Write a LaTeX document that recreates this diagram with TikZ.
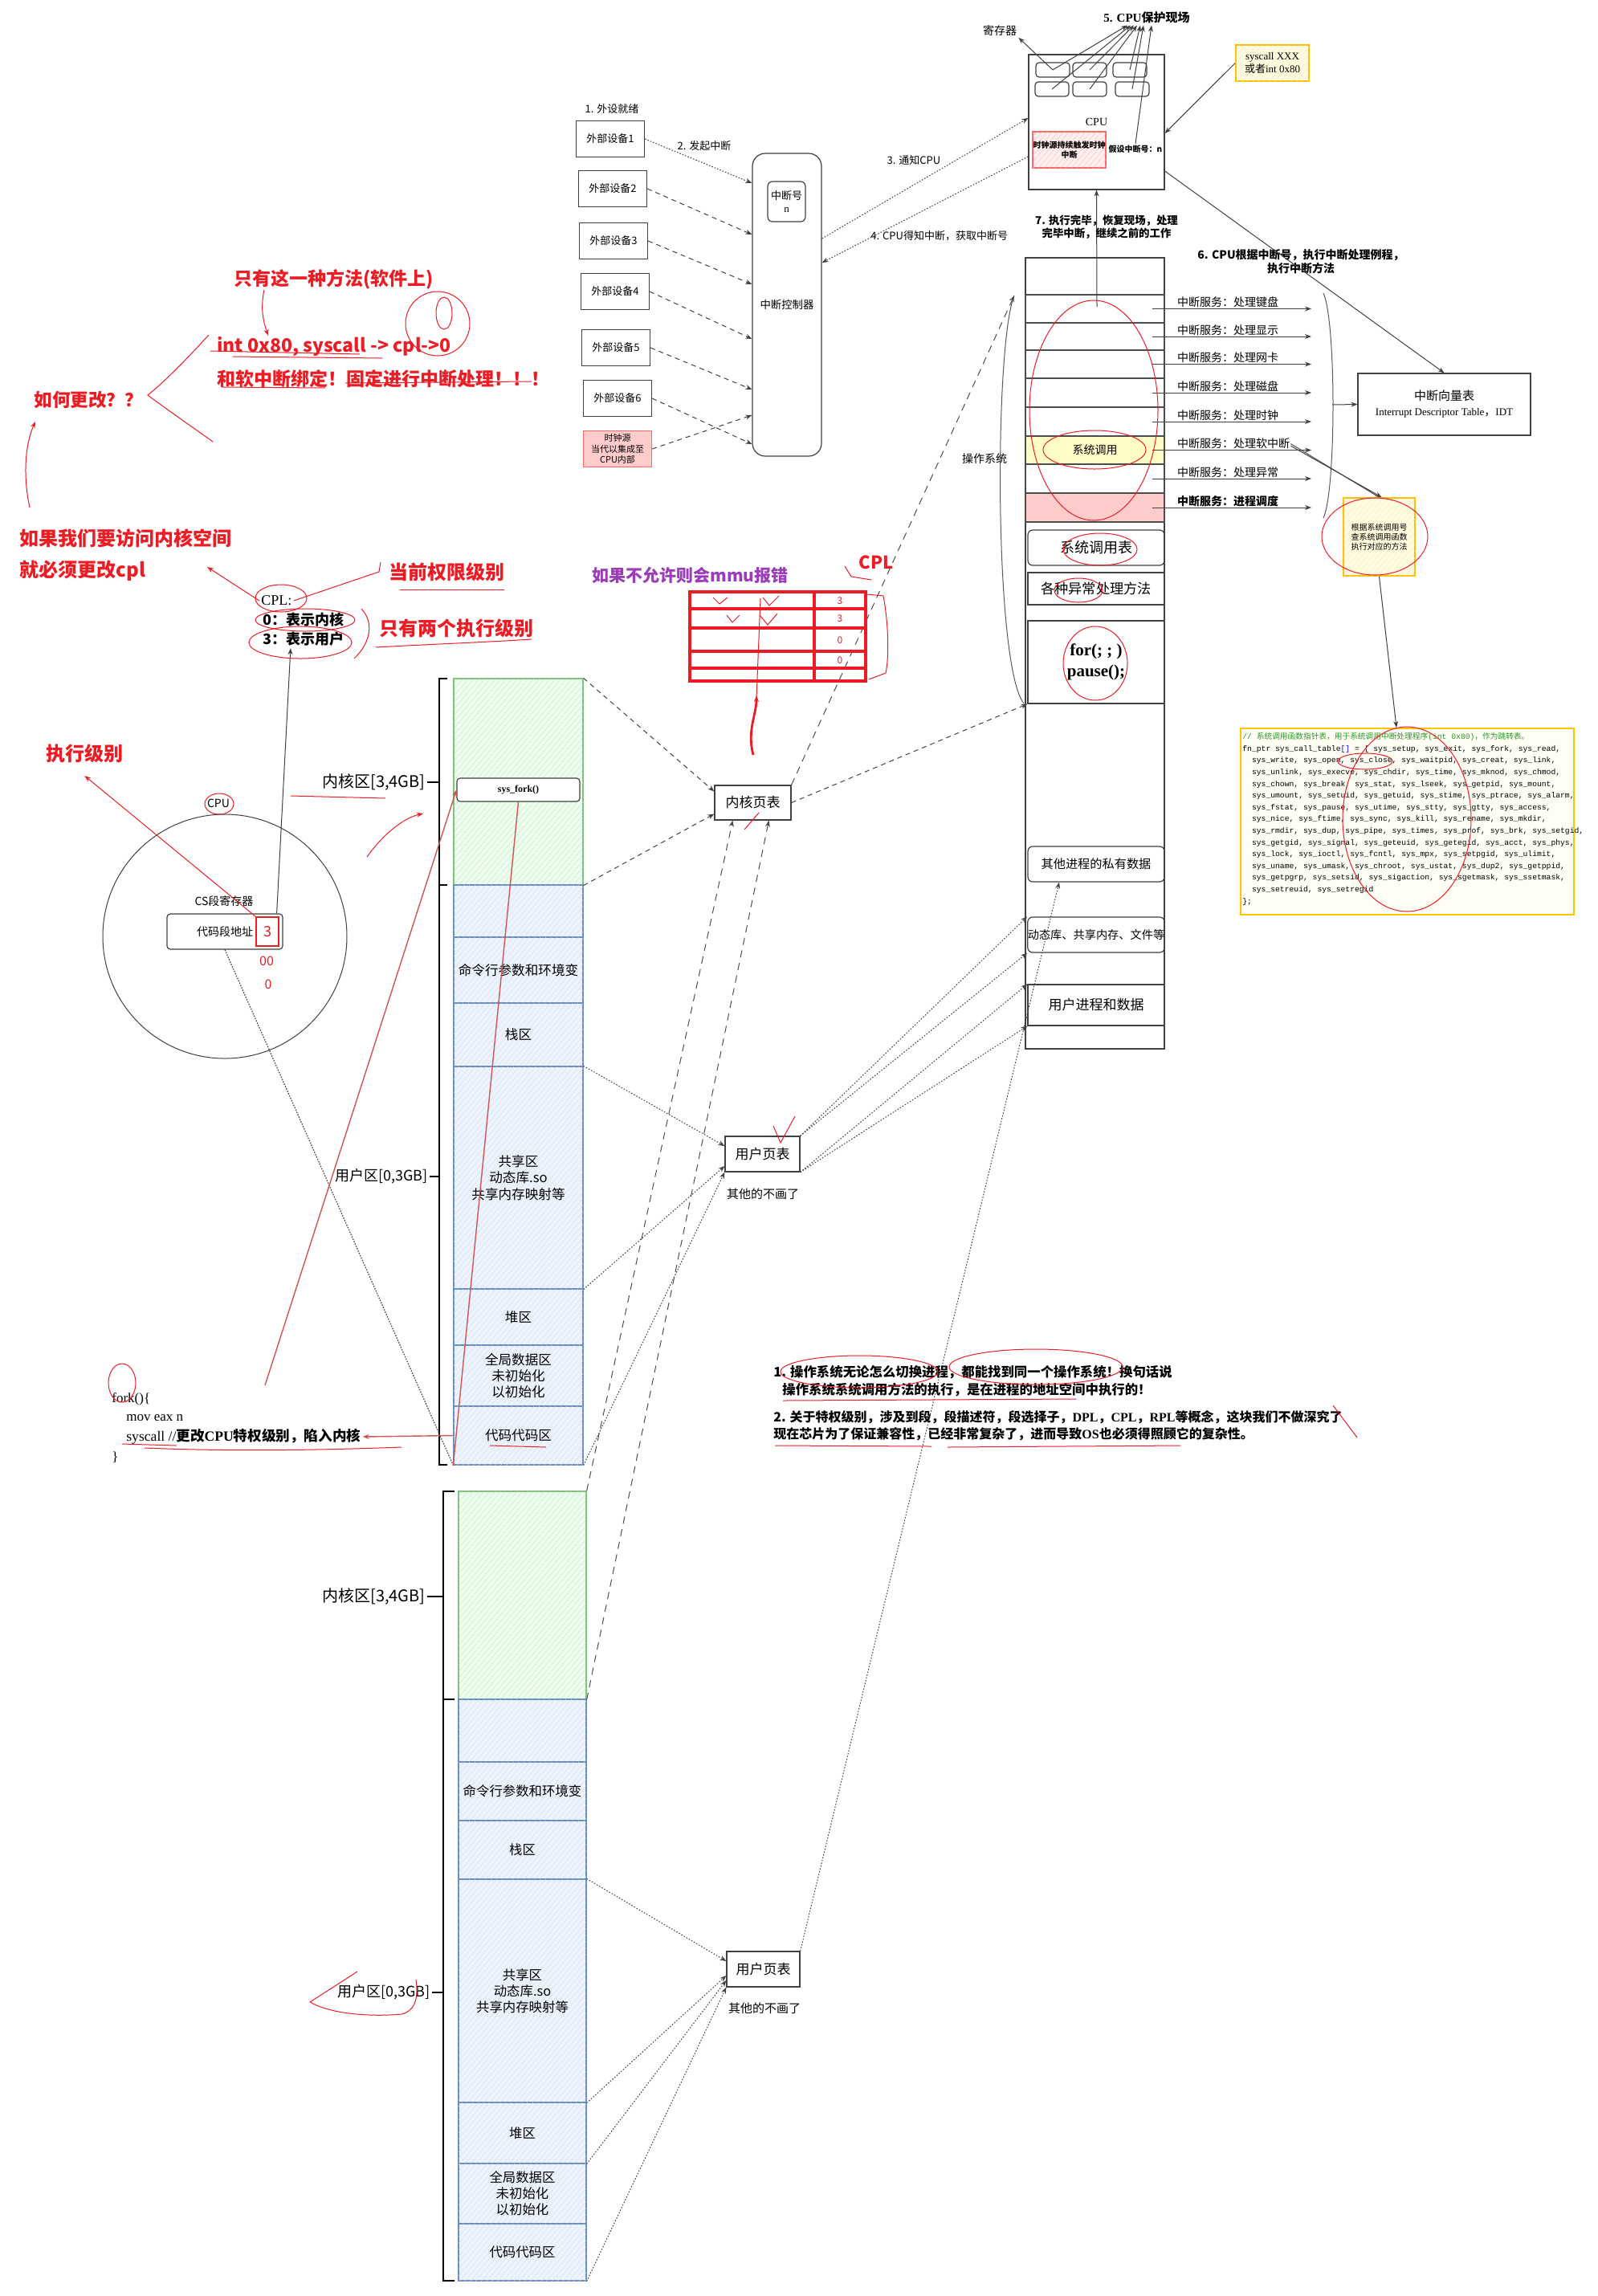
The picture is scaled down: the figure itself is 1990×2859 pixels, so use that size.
\documentclass[tikz,border=0pt]{standalone}
\usepackage{fontspec}
\setmainfont{Noto Sans CJK SC}
\newfontfamily\serif{Liberation Serif}
\newfontfamily\mono{Liberation Mono}
\newfontfamily\cjk{Noto Sans CJK SC}
\usetikzlibrary{arrows.meta,patterns.meta}
\definecolor{annored}{RGB}{236,28,36}
\definecolor{penbrown}{RGB}{205,85,85}
\definecolor{mmupurple}{RGB}{155,60,185}
\definecolor{codegreen}{RGB}{40,150,40}
\definecolor{zoneblue}{RGB}{108,142,191}
\definecolor{zonebluefill}{RGB}{236,243,252}
\newcommand\fsz[1]{\fontsize{#1}{\fpeval{1.22*#1}}\selectfont}
\newcommand\codeind{\hspace*{1.2em}}

\begin{document}
\begin{tikzpicture}[x=0.5pt,y=-0.5pt,
  >={Stealth[length=4pt,width=3pt]},
  every node/.style={inner sep=1pt,font=\fsz{7}},
  box/.style={draw=black!75,line width=0.6pt,align=center,inner sep=0pt},
  rbox/.style={box,rounded corners=3pt},
  hatch/.style={postaction={pattern={Lines[angle=50,distance=2.6pt,line width=0.2pt]},
    pattern color=#1}},
  kzone/.style={box,draw=green!50!black!50,fill=green!7,hatch=green!40!black!22,
    minimum width=#1},
  uzone/.style={box,draw=zoneblue,fill=zonebluefill,hatch=zoneblue!30,minimum width=#1},
  note/.style={box,draw=orange!50!yellow,line width=0.8pt,fill=yellow!12,hatch=orange!22},
  dotlink/.style={black!75,line width=0.5pt,dash pattern=on 0.8pt off 1pt,->},
  dashlink/.style={black!75,line width=0.5pt,dash pattern=on 3pt off 2.5pt,->},
  longlink/.style={black!70,line width=0.5pt,dash pattern=on 4.5pt off 3.5pt,->},
  link/.style={black!75,line width=0.5pt,->},
  pen/.style={annored,line width=0.5pt},
  brownpen/.style={penbrown,line width=0.7pt},
  redword/.style={text=annored,font=\bfseries\fsz{#1},inner sep=0pt}]
  \fill[white] (0,0) rectangle (1990,2859);
  \useasboundingbox (0,0) rectangle (1990,2859);

  % ---------- peripherals and interrupt controller ----------
  \node (ready) at (762,136) {\fsz{6.5}1. 外设就绪};
  \foreach \i/\px/\py in {1/760/173,2/763/235,3/764/300,4/766/363,5/767/433,6/769/496}
    \node[box,minimum width=42.5pt,minimum height=22.5pt,font=\fsz{6.5}]
      (dev\i) at (\px,\py) {外部设备\i};
  \node[box,draw=red!60,fill=red!20,minimum width=42.5pt,minimum height=22.5pt,
    font=\fsz{5.5}] (clk) at (769,559) {时钟源\\当代以集成至\\CPU内部};
  \node[rbox,rounded corners=8pt,minimum width=43pt,minimum height=188.5pt,
    font=\fsz{6.7}] (ctrl) at (980,379.5) {中断控制器};
  \node[rbox,minimum width=23.5pt,minimum height=25pt,font=\fsz{6.5}]
    (irqn) at (979.5,251) {中断号\\{\serif n}};
  \node[font=\fsz{6.5}] (raise) at (877,182) {2. 发起中断};
  \draw[dotlink] (dev1.east) -- (ctrl.west |- 0,228);
  \draw[dashlink] (dev2.east) -- (ctrl.west |- 0,292);
  \draw[dashlink] (dev3.east) -- (ctrl.west |- 0,354);
  \draw[dashlink] (dev4.east) -- (ctrl.west |- 0,422);
  \draw[dashlink] (dev5.east) -- (ctrl.west |- 0,485);
  \draw[dashlink] (dev6.east) -- (ctrl.west |- 0,553);
  \draw[dashlink] (clk.east) -- (ctrl.west |- 0,517);

  % ---------- CPU ----------
  \node[box,minimum width=84.5pt,minimum height=84pt] (cpu) at (1365.5,152) {\serif CPU};
  \foreach \i/\px/\py in {1/1311/87,2/1357/87,3/1407/87,4/1310/111,5/1357/111,6/1410/111}
    \node[rbox,rounded corners=2pt,minimum width=21pt,minimum height=9pt] (reg\i) at (\px,\py) {};
  \node[box,draw=red!60,fill=red!6,hatch=red!30,minimum width=45.5pt,minimum height=22.5pt,
    font=\bfseries\fsz{5}] (tick) at (1331.5,186.5) {时钟源持续触发时钟\\中断};
  \node[font=\bfseries\fsz{5}] (irqval) at (1414,186) {假设中断号：n};
  \node[font=\fsz{7}] (regl) at (1245,38) {寄存器};
  \node[font=\bfseries\fsz{7.5}] (save) at (1428,22) {{\serif 5. CPU}保护现场};
  \node[note,minimum width=45.5pt,minimum height=22.5pt,font=\fsz{6.5}]
    (sysbox) at (1584.5,78.5) {{\serif syscall XXX}\\或者{\serif int 0x80}};
  \draw[link] (reg1.center) -- (regl.south east);
  \draw[link] (reg1.center) -- ([xshift=-12pt]save.south);
  \draw[link] (reg4.center) -- ([xshift=-10pt]save.south);
  \draw[link] (reg2.center) -- ([xshift=-8pt]save.south);
  \draw[link] (reg5.center) -- ([xshift=-6pt]save.south);
  \draw[link] (reg3.center) -- ([xshift=-4pt]save.south);
  \draw[link] (reg6.center) -- ([xshift=-2pt]save.south);
  \draw[link] (irqval.north) -- ([xshift=3pt]save.south);
  \draw[link] (sysbox.west) -- (cpu.east |- 0,166);
  \node[font=\fsz{6.5}] (notify) at (1138,200) {3. 通知CPU};
  \node[anchor=west,font=\fsz{6.5}] (fetch) at (1082,294) {4. CPU得知中断，获取中断号};
  \draw[dotlink] (ctrl.east |- 0,297) -- (cpu.west |- 0,147);
  \draw[dotlink] (cpu.west |- 0,195) -- (ctrl.east |- 0,327);

  % ---------- operating system column ----------
  \node[box,minimum width=86.5pt,minimum height=492.5pt] (os) at (1363.5,813.5) {};
  \foreach \i/\ya/\yb/\fc in {1/367/402/white,2/402/436/white,3/436/471/white,
    4/471/507/white,5/507/543/white,6/543/578/yellow!22,7/578/614/white,8/614/650/red!20}
    \node[box,draw=black!70,fill=\fc,minimum width=86.5pt,minimum height={(\yb-\ya)*0.5pt}]
      (svc\i) at (1363.5,{(\ya+\yb)/2}) {};
  \node (sysc) at (svc6) {系统调用};
  \foreach \i/\txt in {1/处理键盘,2/处理显示,3/处理网卡,4/处理磁盘,5/处理时钟,
    6/处理软中断,7/处理异常}
  {
    \coordinate (sv\i) at (svc\i.east -| 1633,0);
    \node[anchor=south west,inner sep=0.5pt] (svl\i) at ([xshift=7pt]svc\i.east) {中断服务：\txt};
    \draw[link] ([xshift=-8pt]svc\i.east) -- (sv\i);
  }
  \coordinate (sv8) at (svc8.east -| 1633,0);
  \node[anchor=south west,inner sep=0.5pt,font=\bfseries\fsz{7}] (svl8)
    at ([xshift=7pt]svc8.east) {中断服务：进程调度};
  \draw[link] ([xshift=-8pt]svc8.east) -- (sv8);

  \node[rbox,minimum width=85pt,minimum height=22pt,font=\fsz{9}] (systab) at (1365,682) {系统调用表};
  \node[box,minimum width=85pt,minimum height=20pt,font=\fsz{8.6}] (exc) at (1365,733) {各种异常处理方法};
  \node[box,minimum width=85pt,minimum height=51.5pt,font=\serif\bfseries\fsz{10.5}]
    (loop) at (1365,824.5) {for(; ; )\\pause();};
  \node[rbox,minimum width=85pt,minimum height=22pt,font=\fsz{7.6}] (otherdata) at (1365,1076) {其他进程的私有数据};
  \node[rbox,minimum width=85pt,minimum height=22pt,font=\fsz{7.1}] (shlib) at (1365,1164) {动态库、共享内存、文件等};
  \node[box,minimum width=85pt,minimum height=25.5pt,font=\fsz{8.5}] (userproc) at (1365,1251.5) {用户进程和数据};

  \node (oslabel) at (1226,571) {操作系统};
  \coordinate (osTop) at (1263,368);
  \draw[black!65,line width=0.5pt] (osTop) .. controls (1238,430) and (1238,830) .. (1275,876);
  \coordinate (back) at (1366,382);
  \draw[link] (back) -- (cpu.south);
  \node[font=\bfseries\fsz{6.7},align=center] (resume) at (1378,283)
    {7. 执行完毕，恢复现场，处理\\完毕中断，继续之前的工作};

  % ---------- IDT and system call table ----------
  \node[box,minimum width=107.5pt,minimum height=38.5pt] (idt) at (1798.5,503.5)
    {\fsz{7.5}中断向量表\\[1pt]{\serif\fsz{6.5}Interrupt Descriptor Table}，{\serif\fsz{6.5}IDT}};
  \node[font=\bfseries\fsz{7},align=center] (lookup) at (1620,326)
    {6. CPU根据中断号，执行中断处理例程，\\执行中断方法};
  \draw[link] (cpu.east |- 0,213) -- (idt.north);
  \draw[black!65,line width=0.5pt] (1648,365) .. controls (1664,400) and (1664,610) .. (1648,645);
  \coordinate (bracemid) at (1659,504);
  \draw[link] (bracemid) -- (idt.west);
  \node[note,minimum width=44.5pt,minimum height=48.5pt,font=\fsz{5}]
    (handler) at (1717.5,668.5) {根据系统调用号\\查系统调用函数\\执行对应的方法};
  \draw[black!70,line width=0.5pt] (svl6.east) -- (handler.north);
  \draw[link] ([yshift=-1.3pt]svl6.east) -- ([xshift=1.6pt]handler.north);
  \node[box,draw=orange!45!yellow,line width=1pt,fill=yellow!4,minimum width=207.5pt,
    minimum height=116pt] (code) at (1752.5,1023) {};
  \node[anchor=north west,align=left,inner sep=0pt,
    font=\mono\fontsize{4.85}{7.3}\selectfont]
    (codetxt) at ([xshift=1.5pt,yshift=-3pt]code.north west)
    {\textcolor{codegreen}{// {\cjk 系统调用函数指针表，用于系统调用中断处理程序}(int 0x80){\cjk ，作为跳转表。}}\\
     fn\_ptr sys\_call\_table\textcolor{blue}{[]} = \{ sys\_setup, sys\_exit, sys\_fork, sys\_read,\\
     \codeind sys\_write, sys\_open, sys\_close, sys\_waitpid, sys\_creat, sys\_link,\\
     \codeind sys\_unlink, sys\_execve, sys\_chdir, sys\_time, sys\_mknod, sys\_chmod,\\
     \codeind sys\_chown, sys\_break, sys\_stat, sys\_lseek, sys\_getpid, sys\_mount,\\
     \codeind sys\_umount, sys\_setuid, sys\_getuid, sys\_stime, sys\_ptrace, sys\_alarm,\\
     \codeind sys\_fstat, sys\_pause, sys\_utime, sys\_stty, sys\_gtty, sys\_access,\\
     \codeind sys\_nice, sys\_ftime, sys\_sync, sys\_kill, sys\_rename, sys\_mkdir,\\
     \codeind sys\_rmdir, sys\_dup, sys\_pipe, sys\_times, sys\_prof, sys\_brk, sys\_setgid,\\
     \codeind sys\_getgid, sys\_signal, sys\_geteuid, sys\_getegid, sys\_acct, sys\_phys,\\
     \codeind sys\_lock, sys\_ioctl, sys\_fcntl, sys\_mpx, sys\_setpgid, sys\_ulimit,\\
     \codeind sys\_uname, sys\_umask, sys\_chroot, sys\_ustat, sys\_dup2, sys\_getppid,\\
     \codeind sys\_getpgrp, sys\_setsid, sys\_sigaction, sys\_sgetmask, sys\_ssetmask,\\
     \codeind sys\_setreuid, sys\_setregid\\
     \};};
  \draw[link] (handler.south) -- (code.north -| 1739,0);

  % ---------- first process address space ----------
  \node[kzone=80.5pt,minimum height=128.5pt] (kernA) at (645.5,973.5) {};
  \foreach \nm/\ya/\yb/\txt in {voidA/1102/1167/{},argsA/1167/1249/{命令行参数和环境变},
    stackA/1249/1328/{栈区},shareA/1328/1605/{共享区\\动态库.so\\共享内存映射等},
    heapA/1605/1675/{堆区},dataA/1675/1751/{全局数据区\\未初始化\\以初始化},
    codeA/1751/1824/{代码代码区}}
    \node[uzone=80.5pt,minimum height={(\yb-\ya)*0.5pt},font=\fsz{8.3}]
      (\nm) at (645.5,{(\ya+\yb)/2}) {\txt};
  \node[rbox,rounded corners=2pt,fill=white,minimum width=76.5pt,minimum height=14.5pt,
    font=\serif\bfseries\fsz{6}] (sysfork) at (645.5,983.5) {sys\_fork()};
  \draw[black,line width=1.1pt] (557,845) -- (547,845) -- (547,1824) -- (557,1824);
  \draw[black,line width=1.1pt] (547,1102) -- (557,1102);
  \node[anchor=east,font=\fsz{10}] (kernlabA) at (532,974) {内核区[3,4GB]};
  \node[anchor=east,font=\fsz{9}] (userlabA) at (535,1465) {用户区[0,3GB]};
  \draw[black,line width=0.8pt] (kernlabA.east) -- (547,974);
  \draw[black,line width=0.8pt] (userlabA.east) -- (547,1465);

  % ---------- second process address space ----------
  \node[kzone=79.5pt,minimum height=129.5pt] (kernB) at (650.5,1986.5) {};
  \foreach \nm/\ya/\yb/\txt in {voidB/2116/2194/{},argsB/2194/2267/{命令行参数和环境变},
    stackB/2267/2340/{栈区},shareB/2340/2618/{共享区\\动态库.so\\共享内存映射等},
    heapB/2618/2694/{堆区},dataB/2694/2769/{全局数据区\\未初始化\\以初始化},
    codeB/2769/2840/{代码代码区}}
    \node[uzone=79.5pt,minimum height={(\yb-\ya)*0.5pt},font=\fsz{8.2}]
      (\nm) at (650.5,{(\ya+\yb)/2}) {\txt};
  \draw[black,line width=1.1pt] (566,1857) -- (552,1857) -- (552,2840) -- (566,2840);
  \draw[black,line width=1.1pt] (552,2116) -- (566,2116);
  \node[anchor=east,font=\fsz{10}] (kernlabB) at (532,1988) {内核区[3,4GB]};
  \node[anchor=east,font=\fsz{9}] (userlabB) at (538,2481) {用户区[0,3GB]};
  \draw[black,line width=0.8pt] (kernlabB.east) -- (552,1988);
  \draw[black,line width=0.8pt] (userlabB.east) -- (552,2481);

  % ---------- page tables ----------
  \node[box,minimum width=47.5pt,minimum height=21.5pt,font=\fsz{8.5}] (kpt) at (937.5,999.5) {内核页表};
  \node[box,minimum width=46.5pt,minimum height=22pt,font=\fsz{8.5}] (uptA) at (949.5,1437) {用户页表};
  \node[font=\fsz{7.5}] (skipA) at (950,1487) {其他的不画了};
  \node[box,minimum width=45.5pt,minimum height=22pt,font=\fsz{8.5}] (uptB) at (950.5,2452) {用户页表};
  \node[font=\fsz{7.5}] (skipB) at (952,2501) {其他的不画了};

  \draw[dashlink] (kernA.north east) -- ([yshift=7pt]kpt.west);
  \draw[dashlink] (kernA.south east) -- ([yshift=-7pt]kpt.west);
  \draw[longlink] (kernB.north east) -- ([xshift=-12.5pt]kpt.south);
  \draw[longlink] (kernB.south east) -- ([xshift=10pt]kpt.south);
  \draw[longlink] (kpt.north east) -- (osTop);
  \draw[dashlink] (kpt.east) -- (loop.south west);

  \draw[dotlink] (shareA.north east) -- ([yshift=5pt]uptA.west);
  \draw[dotlink] (shareA.south east) -- ([yshift=-7.5pt]uptA.west);
  \draw[dotlink] (codeA.south east) -- (uptA.south west);
  \draw[dotlink] (uptA.north east) -- (shlib.north west);
  \draw[dotlink] (uptA.north east) -- (shlib.south west);
  \draw[dotlink] (uptA.south east) -- (userproc.north west);
  \draw[dotlink] (uptA.south east) -- (userproc.south west);

  \draw[dotlink] (shareB.north east) -- ([yshift=5pt]uptB.west);
  \draw[dotlink] (shareB.south east) -- ([yshift=-4pt]uptB.west);
  \draw[dotlink] (heapB.south east) -- ([yshift=-7pt]uptB.west);
  \draw[dotlink] (codeB.south east) -- (uptB.south west);
  \draw[dotlink] (uptB.north east) -- ([xshift=-23pt]otherdata.south);

  % ---------- CPU and CS register ----------
  \node[draw=black!75,line width=0.5pt,circle,minimum size=152pt] (cpucirc) at (280,1166) {};
  \node (cpulab) at (272,1000) {CPU};
  \node (csl) at (279,1122) {CS段寄存器};
  \node[rbox,rounded corners=2pt,minimum width=72pt,minimum height=22pt] (csaddr) at (280,1160) {代码段地址};
  \node[draw=annored,line width=0.6pt,minimum width=14pt,minimum height=18pt,
    text=annored,font=\fsz{9}] (rplbox) at (333,1160) {3};
  \node[text=annored,font=\fsz{8}] (zeroA) at (332,1197) {00};
  \node[text=annored,font=\fsz{8}] (zeroB) at (334,1226) {0};
  \draw[black!75,line width=0.6pt,dash pattern=on 0.8pt off 0.8pt] (csaddr.south) -- (codeA.south west);

  % ---------- CPL notes ----------
  \node[anchor=west,font=\serif\fsz{9}] (cplt) at (323,748) {CPL:};
  \node[anchor=west,font=\bfseries\fsz{9}] (cpl0) at (325,772) {0：表示内核};
  \node[anchor=west,font=\bfseries\fsz{9}] (cpl3) at (325,796) {3：表示用户};
  \draw[link] ([xshift=-4pt]csaddr.north east) -- ([xshift=-8pt]cpl3.south);

  % ---------- fork code ----------
  \node[anchor=west,font=\serif\fsz{8.5}] (forkA) at (137,1742) {fork()\{};
  \node[anchor=west,font=\serif\fsz{8.5}] (forkB) at (155,1766) {mov eax n};
  \node[anchor=west,font=\fsz{8.8}] (forkC) at (155,1789)
    {{\serif syscall //}\textbf{更改{\serif CPU}特权级别，陷入内核}};
  \node[anchor=west,font=\serif\fsz{8.5}] (forkD) at (137,1815) {\}};

  % ---------- notes at the bottom ----------
  \node[anchor=west,font=\bfseries\fsz{8.2}] (noteA1) at (961,1709)
    {1. 操作系统无论怎么切换进程，都能找到同一个操作系统！换句话说};
  \node[anchor=west,font=\bfseries\fsz{8.2}] (noteA2) at (972,1731)
    {操作系统系统调用方法的执行，是在进程的地址空间中执行的！};
  \node[anchor=west,font=\bfseries\fsz{8}] (noteB1) at (961,1765)
    {2. 关于特权级别，涉及到段，段描述符，段选择子，{\serif DPL}，{\serif CPL}，{\serif RPL}等概念，这块我们不做深究了};
  \node[anchor=west,font=\bfseries\fsz{8}] (noteB2) at (961,1786)
    {现在芯片为了保证兼容性，已经非常复杂了，进而导致{\serif OS}也必须得照顾它的复杂性。};

  % ---------- red handwriting ----------
  \node[anchor=west,redword=11.5] (onlyway) at (291,348) {只有这一种方法(软件上)};
  \node[anchor=west,redword=11.5] (intl) at (270,432) {int 0x80, syscall -> cpl->0};
  \node[anchor=west,redword=11.5] (bindl) at (270,472) {和软中断绑定！固定进行中断处理！！！};
  \node[anchor=west,redword=11.3] (howl) at (42,498) {如何更改？？};
  \node[anchor=west,redword=12] (mustA) at (24,670) {如果我们要访问内核空间};
  \node[anchor=west,redword=12] (mustB) at (24,711) {就必须更改cpl};
  \node[anchor=west,redword=12] (curpl) at (484,712) {当前权限级别};
  \node[anchor=west,redword=12] (twolv) at (472,782) {只有两个执行级别};
  \node[anchor=west,redword=12] (execlv) at (57,938) {执行级别};
  \node[anchor=west,text=mmupurple,font=\bfseries\fsz{10.5},inner sep=0pt] (mmu) at (737,716) {如果不允许则会mmu报错};
  \node[redword=11] (cplred) at (1091,700) {CPL};

  \draw[pen,->] (onlyway.south west) ++(38,0) .. controls (324,385) and (328,400) .. (334,418);
  \draw[pen] (262,437) -- (448,441);
  \draw[pen] (290,444) -- (476,446);
  \draw[pen] (277,482) -- (405,483);
  \draw[pen] (430,477) -- (662,475);
  \draw[pen] (545,403) ellipse [x radius=40,y radius=40];
  \draw[pen] (553,390) ellipse [x radius=10,y radius=20];
  \draw[pen] (260,417) .. controls (230,450) and (205,475) .. (184,492)
    .. controls (215,515) and (240,532) .. (265,550);
  \draw[pen,->] (37,632) .. controls (28,590) and (32,552) .. (44,525);
  \coordinate (cplTip) at (258,706);
  \draw[pen,->] (cplt.west) -- (cplTip);
  \draw[pen] (cplt.east) -- ([xshift=-6pt]curpl.west) -- ([xshift=-5pt,yshift=6pt]curpl.west);
  \draw[pen] (350,745) ellipse [x radius=32,y radius=17];
  \draw[pen] (380,772) ellipse [x radius=62,y radius=14];
  \draw[pen] (374,800) ellipse [x radius=64,y radius=20];
  \draw[pen] (450,758) .. controls (466,775) and (462,800) .. (441,820);
  \draw[pen] (498,734) -- (628,734);
  \draw[pen] (468,806) .. controls (540,802) and (600,800) .. (662,796);

  % mmu table
  \draw[annored,line width=2pt] (859,737) rectangle (1078,848);
  \foreach \ry in {758,782,811,832}
    \draw[annored,line width=2pt] (859,\ry) -- (1078,\ry);
  \draw[annored,line width=2pt] (1014,737) -- (1014,848);
  \foreach \ry/\rv in {748/3,770/3,797/0,822/0}
    \node[text=annored,font=\fsz{6}] (cplv\ry) at (1046,\ry) {\rv};
  \draw[pen] (888,744) -- (896,752) -- (906,744);
  \draw[pen] (950,744) -- (958,754) -- (970,742);
  \draw[pen] (905,766) -- (912,775) -- (921,766);
  \draw[pen] (946,766) -- (956,778) -- (968,764);
  \draw[pen] (947,745) -- (942,870);
  \draw[pen] (1080,740) -- (1100,742) .. controls (1107,780) and (1107,820) .. (1103,838) -- (1082,846);
  \draw[pen] (1085,722) -- (1060,718) -- (1052,705);
  \draw[annored,line width=1.4pt,->] (938,940) .. controls (930,910) and (942,890) .. (942,866);

  % CPU area
  \draw[pen] (273,1001) ellipse [x radius=18,y radius=13];
  \draw[pen,->] (rplbox.north west) -- ([yshift=-8pt]execlv.south);
  \draw[pen] (362,991) -- (480,994);
  \draw[pen,->] (457,1067) .. controls (480,1035) and (505,1018) .. (527,1013);
  \draw[pen] (445,2455) -- (386,2493) .. controls (420,2512) and (480,2510) .. (500,2508)
    .. controls (515,2505) and (522,2490) .. (518,2465);
  \coordinate (forkpt) at (330,1725);
  \draw[brownpen,->] (forkpt) -- (sysfork.west);
  \draw[brownpen] (sysfork.south) -- (codeA.south west);
  \draw[brownpen,->] (codeA.west) -- (forkC.east);
  \draw[pen] (152,1722) ellipse [x radius=17,y radius=24];
  \draw[pen] (152,1798) -- (220,1800);
  \draw[pen] (180,1803) .. controls (300,1808) and (420,1805) .. (500,1802);
  \draw[pen] (610,1800) -- (680,1802);

  % OS column marks
  \draw[pen] (1362,511) ellipse [x radius=80,y radius=137];
  \draw[pen] (1363,560) ellipse [x radius=64,y radius=24];
  \draw[pen] (1370,684) ellipse [x radius=46,y radius=20];
  \draw[pen] (1343,735) ellipse [x radius=30,y radius=15];
  \draw[pen] (1364,826) ellipse [x radius=40,y radius=46];
  \draw[pen] (1712,668) ellipse [x radius=66,y radius=48];
  \draw[pen] (1752,1020) ellipse [x radius=80,y radius=115];
  \draw[pen] (1700,948) ellipse [x radius=34,y radius=10];
  \draw[pen] (963,1402) -- (972,1423) -- (990,1390);
  \draw[pen] (927,1033) -- (945,1012);

  % notes marks
  \draw[pen] (1070,1708) ellipse [x radius=98,y radius=20];
  \draw[pen] (1290,1702) ellipse [x radius=108,y radius=22];
  \draw[pen] (975,1744) -- (1340,1742);
  \draw[pen] (965,1800) -- (1160,1801);
  \draw[pen] (1180,1802) -- (1470,1800);
  \draw[pen] (1660,1750) -- (1690,1790);
\end{tikzpicture}
\end{document}
